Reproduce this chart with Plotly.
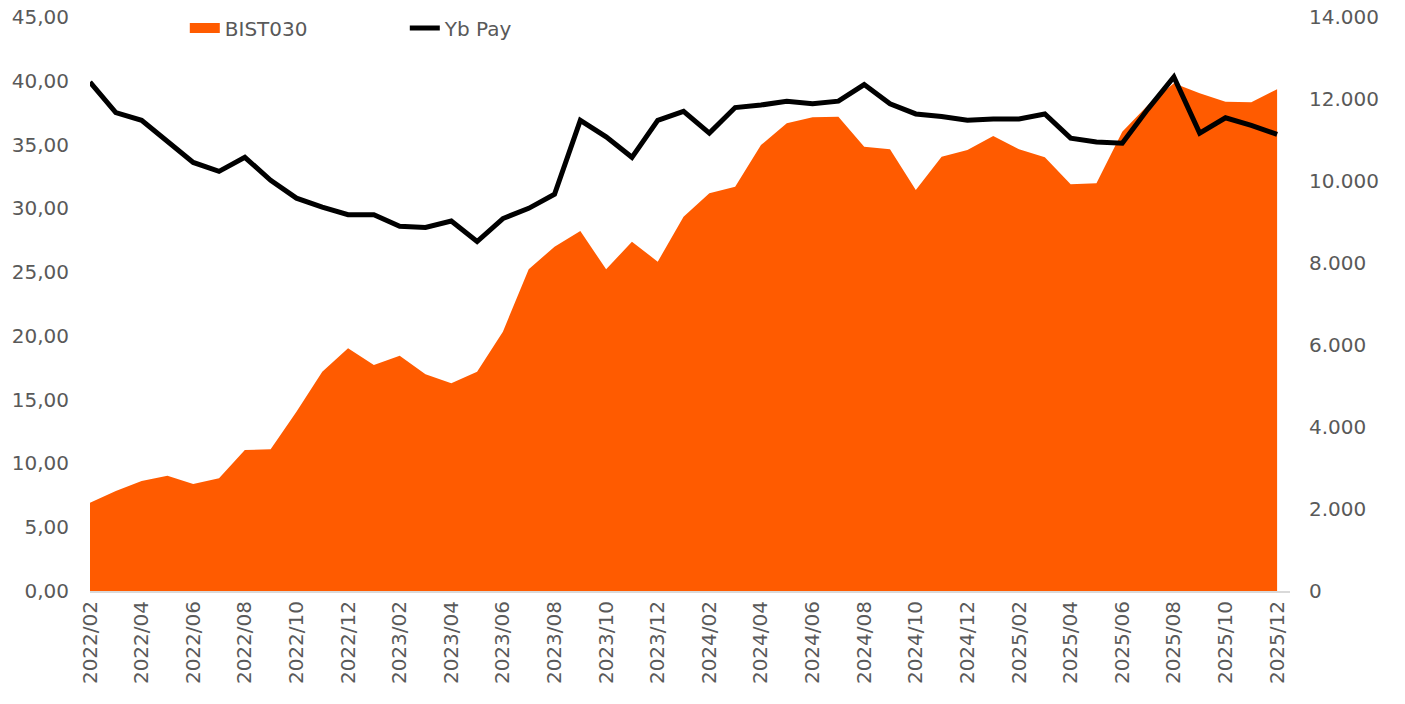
import plotly.graph_objects as go

months = [f"{y}/{m:02d}" for y in (2022, 2023, 2024, 2025) for m in range(1, 13)][1:]

bist030 = [2154, 2439, 2683, 2813, 2610, 2749, 3439, 3456, 4373, 5349, 5919, 5512,
           5740, 5285, 5066, 5349, 6325, 7846, 8398, 8780, 7846, 8520, 8032, 9129,
           9700, 9861, 10878, 11407, 11553, 11569, 10837, 10773, 9780, 10593, 10756, 11098,
           10773, 10578, 9920, 9944, 11200, 11854, 12383, 12139, 11935, 11919, 12237]

yb_pay = [39.9, 37.5, 36.9, 35.3, 33.6, 32.9, 34.0, 32.2, 30.8, 30.1, 29.5, 29.5,
          28.6, 28.5, 29.0, 27.4, 29.2, 30.0, 31.1, 36.9, 35.6, 34.0, 36.9, 37.6,
          35.9, 37.9, 38.1, 38.4, 38.2, 38.4, 39.7, 38.2, 37.4, 37.2, 36.9, 37.0,
          37.0, 37.4, 35.5, 35.2, 35.1, 37.8, 40.3, 35.9, 37.1, 36.5, 35.8]

x_idx = list(range(len(months)))
tick_idx = x_idx[::2]
tick_txt = months[::2]

ORANGE = "#FF5B00"
GRAY = "#595959"
FONT = "DejaVu Sans"

fig = go.Figure()
# area (no own legend entry; a legend key with a thicker swatch is added below)
fig.add_trace(go.Scatter(
    x=x_idx, y=bist030, name="BIST030", mode="lines", showlegend=False,
    fill="tozeroy", fillcolor=ORANGE, line=dict(color=ORANGE, width=0),
    legendgroup="bist", yaxis="y"))
# legend key for the area series (no data -> nothing drawn in the plot)
fig.add_trace(go.Scatter(
    x=[None], y=[None], name="BIST030", mode="lines", legendgroup="bist",
    line=dict(color=ORANGE, width=10), yaxis="y"))
fig.add_trace(go.Scatter(
    x=x_idx, y=yb_pay, name="Yb Pay", mode="lines",
    line=dict(color="black", width=5), yaxis="y2"))

fig.update_layout(
    width=1405, height=704,
    margin=dict(l=90, r=115, t=17, b=113, autoexpand=False),
    paper_bgcolor="white", plot_bgcolor="white",
    separators=",.",
    font=dict(family=FONT, size=20, color=GRAY),
    showlegend=True,
    legend=dict(orientation="h", x=0.079, y=1.015, xanchor="left", yanchor="top",
                bgcolor="rgba(0,0,0,0)", font=dict(family=FONT, size=20, color=GRAY),
                entrywidth=175, entrywidthmode="pixels", tracegroupgap=0,
                groupclick="togglegroup"),
    xaxis=dict(range=[0, 46.5], tickmode="array", tickvals=tick_idx, ticktext=tick_txt,
               tickangle=-90, showgrid=False, zeroline=False, showline=True,
               linecolor="#D9D9D9", linewidth=2, ticks="", automargin=False,
               tickfont=dict(family=FONT, size=20, color=GRAY)),
    yaxis=dict(side="right", range=[0, 14000], dtick=2000, tickformat=",d",
               separatethousands=True, showgrid=False, zeroline=False, showline=False,
               ticks="", ticklabelstandoff=18, automargin=False,
               tickfont=dict(family=FONT, size=20, color=GRAY)),
    yaxis2=dict(side="left", overlaying="y", range=[0, 45], dtick=5, tickformat=".2f",
                showgrid=False, zeroline=False, showline=False, ticks="",
                ticklabelstandoff=20, automargin=False,
                tickfont=dict(family=FONT, size=20, color=GRAY)),
)

fig.write_html("out.html", config={"displayModeBar": False},
               post_script="document.body.style.margin='0px';document.body.style.overflow='hidden';")
